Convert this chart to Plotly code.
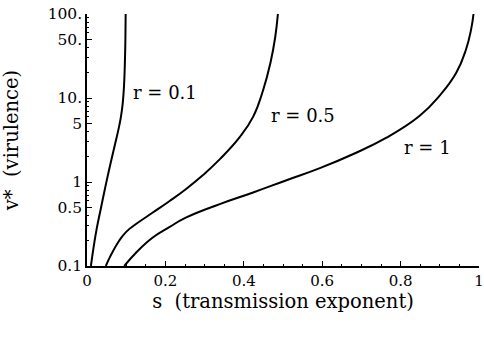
import plotly.graph_objects as go

# transmission exponent s and virulence v* for three values of r
s_r01 = [0.010, 0.016, 0.025, 0.036, 0.048, 0.060, 0.070, 0.079, 0.086, 0.091, 0.0945, 0.0968, 0.0980, 0.0986]
v_r01 = [0.1, 0.158, 0.282, 0.50, 0.93, 1.66, 2.63, 3.98, 5.75, 8.5, 14.1, 28.2, 52.5, 100]

s_r05 = [0.048, 0.060, 0.082, 0.100, 0.125, 0.167, 0.210, 0.252, 0.296, 0.339, 0.390, 0.424, 0.449, 0.468, 0.480, 0.487]
v_r05 = [0.1, 0.132, 0.20, 0.255, 0.316, 0.43, 0.59, 0.82, 1.21, 1.87, 3.44, 6.0, 12.3, 26.3, 52.5, 100]

s_r1 = [0.095, 0.125, 0.167, 0.210, 0.252, 0.337, 0.422, 0.509, 0.594, 0.678, 0.764, 0.848, 0.899, 0.942, 0.967, 0.980, 0.986]
v_r1 = [0.1, 0.144, 0.217, 0.29, 0.376, 0.542, 0.746, 1.05, 1.46, 2.14, 3.37, 6.1, 10.6, 20, 38, 66, 100]

curve_labels = ["r = 0.1", "r = 0.5", "r = 1"]

x_tickvals = [0, 0.2, 0.4, 0.6, 0.8, 1]
x_ticktext = ["0", "0.2", "0.4", "0.6", "0.8", "1"]
y_tickvals = [0.1, 0.5, 1, 5, 10, 50, 100]
y_ticktext = ["0.1", "0.5", "1", "5", "10.", "50.", "100."]
y_minor = [0.2, 0.3, 0.4, 0.6, 0.7, 0.8, 0.9, 2, 3, 4, 6, 7, 8, 9, 20, 30, 40, 60, 70, 80, 90]

FONT = "DejaVu Serif"

fig = go.Figure()
for sx, vy in [(s_r01, v_r01), (s_r05, v_r05), (s_r1, v_r1)]:
    fig.add_trace(go.Scatter(x=sx, y=vy, mode="lines",
                             line=dict(color="black", width=2, shape="spline", smoothing=1.3),
                             showlegend=False, hoverinfo="skip"))

# annotation y positions given in log10 units (log axis)
label_pos = [(0.199, 1.07), (0.55, 0.786), (0.869, 0.405)]
for txt, (ax, ay) in zip(curve_labels, label_pos):
    fig.add_annotation(x=ax, y=ay, xref="x", yref="y", text=txt, showarrow=False,
                       font=dict(family=FONT, size=18, color="black"))

fig.update_layout(
    width=484, height=341,
    margin=dict(l=87, r=4.5, t=14, b=75),
    paper_bgcolor="white", plot_bgcolor="white",
    font=dict(family=FONT, color="black", size=15),
    xaxis=dict(range=[0, 1.0], tickvals=x_tickvals, ticktext=x_ticktext, automargin=False,
               ticklabeloverflow="allow",
               showgrid=False, zeroline=False, showline=True, linecolor="black", linewidth=1.5,
               ticks="inside", ticklen=5, tickcolor="black", tickwidth=1,
               minor=dict(ticks="inside", ticklen=2.5, dtick=0.05, tickcolor="black", showgrid=False),
               tickfont=dict(family=FONT, size=15),
               title=dict(text="s  (transmission exponent)", font=dict(family=FONT, size=19.5), standoff=2)),
    yaxis=dict(type="log", range=[-1, 2], tickvals=y_tickvals, ticktext=y_ticktext, automargin=False,
               ticklabeloverflow="allow",
               showgrid=False, zeroline=False, showline=True, linecolor="black", linewidth=1.5,
               ticks="inside", ticklen=5, tickcolor="black", tickwidth=1,
               minor=dict(ticks="inside", ticklen=2.5, tickvals=y_minor, tickcolor="black", showgrid=False),
               tickfont=dict(family=FONT, size=15.5),
               title=dict(text="v*  (virulence)", font=dict(family=FONT, size=19.5), standoff=25)),
)

# remove the default 8px page margin so the figure sits at the window's corner
fig.write_html("out.html", config={"displayModeBar": False},
               post_script="document.body.style.margin='0';")
